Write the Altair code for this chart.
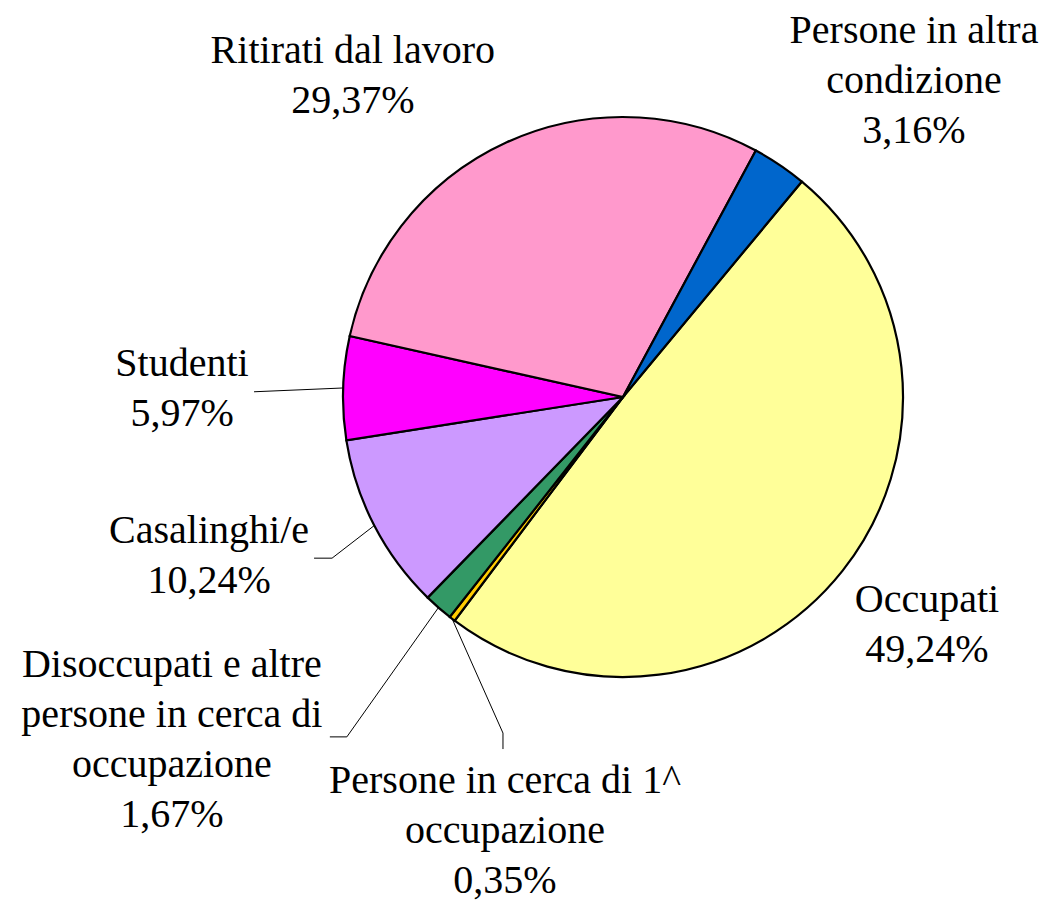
import math
import pandas as pd
import altair as alt

# ---- data ----
categories = [
    "Occupati",
    "Persone in cerca di 1^ occupazione",
    "Disoccupati e altre persone in cerca di occupazione",
    "Casalinghi/e",
    "Studenti",
    "Ritirati dal lavoro",
    "Persone in altra condizione",
]
values = [49.24, 0.35, 1.67, 10.24, 5.97, 29.37, 3.16]
label_lines = [
    ["Occupati"],
    ["Persone in cerca di 1^", "occupazione"],
    ["Disoccupati e altre", "persone in cerca di", "occupazione"],
    ["Casalinghi/e"],
    ["Studenti"],
    ["Ritirati dal lavoro"],
    ["Persone in altra", "condizione"],
]
colors = ["#FFFF99", "#FFCC00", "#339966", "#CC99FF", "#FF00FF", "#FF99CC", "#0066CC"]

# ---- layout (pixels, chart coordinates) ----
CX, CY = 615, 389
R = 280
START_DEG = 39.7
# label anchor offsets (first-line baseline) from slice edge point at mid-angle
label_offsets = [
    (84.3, 41.5),
    (52.8, 174.0),
    (-266.6, 69.3),
    (-165.2, 17.6),
    (-161.1, -12.2),
    (-153.9, -79.5),
    (134.4, -121.9),
]
# leader line bends (offsets from edge point); empty = no leader
leader_offsets = [
    [],
    [(50.8, 114.2), (50.8, 130.2)],
    [(-91.6, 129.3), (-108.6, 129.3)],
    [(-42.2, 32.6), (-60.2, 32.6)],
    [(-89.1, 3.8)],
    [],
    [],
]

total = sum(values)
a0 = math.radians(START_DEG)

pie_df = pd.DataFrame({"idx": list(range(len(values))), "category": categories, "value": values})

text_rows, line_rows = [], []
cum = 0.0
for i, (cat, v) in enumerate(zip(categories, values)):
    mid = a0 + 2 * math.pi * (cum + v / 2) / total
    cum += v
    ex = CX + R * math.sin(mid)
    ey = CY - R * math.cos(mid)
    pct = f"{v:.2f}".replace(".", ",") + "%"
    text_rows.append({
        "category": cat,
        "label": "\n".join(label_lines[i] + [pct]),
        "x": ex + label_offsets[i][0],
        "y": ey + label_offsets[i][1],
    })
    if leader_offsets[i]:
        pts = [(ex, ey)] + [(ex + dx, ey + dy) for dx, dy in leader_offsets[i]]
        for j, (px, py) in enumerate(pts):
            line_rows.append({"group": cat, "seq": j, "x": px, "y": py})

text_df = pd.DataFrame(text_rows)
line_df = pd.DataFrame(line_rows)

arcs = alt.Chart(pie_df).mark_arc(radius=R, stroke="black", strokeWidth=2.2).encode(
    theta=alt.Theta("value:Q", stack=True, scale=alt.Scale(range=[a0, a0 + 2 * math.pi])),
    color=alt.Color("category:N", scale=alt.Scale(domain=categories, range=colors), legend=None),
    order=alt.Order("idx:Q"),
    x=alt.value(CX),
    y=alt.value(CY),
)

leaders = alt.Chart(line_df).mark_line(color="black", strokeWidth=1).encode(
    x=alt.X("x:Q", scale=None, axis=None),
    y=alt.Y("y:Q", scale=None, axis=None),
    detail="group:N",
    order="seq:Q",
)

labels = alt.Chart(text_df).mark_text(
    font="Liberation Serif", fontSize=40, lineHeight=50, align="center",
    baseline="alphabetic", lineBreak="\n", color="black",
).encode(
    x=alt.X("x:Q", scale=None, axis=None),
    y=alt.Y("y:Q", scale=None, axis=None),
    text="label:N",
)

chart = alt.layer(arcs, leaders, labels).properties(
    width=1034, height=893, padding=0,
    autosize=alt.AutoSizeParams(type="none"),
    background="white",
).configure_view(stroke=None)

chart.save("out.html", embed_options={"renderer": "svg", "actions": False})
